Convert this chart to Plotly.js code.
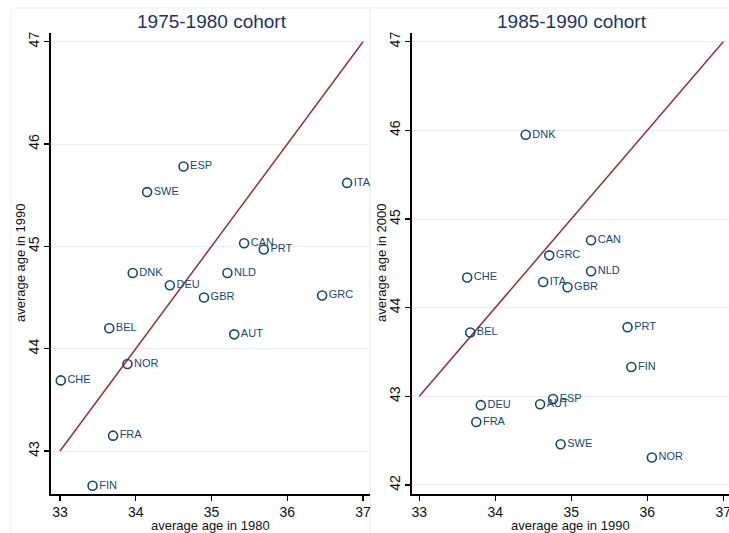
<!DOCTYPE html>
<html>
<head>
<meta charset="utf-8">
<script src="https://cdn.plot.ly/plotly-3.0.1.min.js"></script>
<style>html,body{margin:0;padding:0;background:#fff;}#chart{width:729px;height:533px;}</style>
</head>
<body>
<div id="chart"></div>
<script>
// 1975-1980 cohort
const countries1 = ["ESP","SWE","ITA","CAN","PRT","DNK","NLD","DEU","GBR","GRC","BEL","AUT","NOR","CHE","FRA","FIN"];
const age1980    = [34.63,34.15,36.79,35.43,35.69,33.96,35.21,34.45,34.90,36.46,33.65,35.30,33.89,33.01,33.70,33.43];
const age1990a   = [45.78,45.53,45.62,45.03,44.97,44.74,44.74,44.62,44.50,44.52,44.20,44.14,43.85,43.69,43.15,42.66];
// 1985-1990 cohort
const countries2 = ["DNK","CAN","GRC","NLD","CHE","ITA","GBR","BEL","PRT","FIN","ESP","AUT","DEU","FRA","SWE","NOR"];
const age1990b   = [34.40,35.26,34.71,35.26,33.63,34.63,34.95,33.67,35.74,35.79,34.76,34.59,33.81,33.75,34.86,36.06];
const age2000    = [45.95,44.76,44.59,44.41,44.34,44.29,44.23,43.72,43.78,43.33,42.97,42.91,42.90,42.71,42.46,42.31];
// 45-degree reference lines
const refX = [33, 37];
const refY = [43, 47];

const navy = "#1a476f";
const maroon = "#93303a";
const font = "Liberation Sans, Arial, sans-serif";

function pts(x, y, t, xa, ya) {
  return {
    x: x, y: y, text: t, xaxis: xa, yaxis: ya,
    type: "scatter", mode: "markers+text", textposition: "middle right",
    textfont: {family: font, size: 11, color: navy},
    marker: {symbol: "circle-open", size: 9, color: navy, line: {width: 1.6, color: navy}},
    hoverinfo: "skip", showlegend: false, cliponaxis: false
  };
}
function ref(xa, ya) {
  return {x: refX, y: refY, xaxis: xa, yaxis: ya, type: "scatter", mode: "lines",
    line: {color: maroon, width: 1.5}, hoverinfo: "skip", showlegend: false};
}

const W = 729, H = 533;
const px = v => v / W, py = v => 1 - v / H;

function xax(domain, range, title) {
  return {
    domain: domain, range: range, showgrid: false, zeroline: false,
    showline: true, linecolor: "#000", linewidth: 1.5,
    ticks: "outside", ticklen: 5, tickcolor: "#000", tickwidth: 1.2,
    ticklabeloverflow: "allow",
    tickvals: [33, 34, 35, 36, 37], tickfont: {family: font, size: 14, color: "#111"},
    title: {text: title, font: {family: font, size: 13, color: "#111"}, standoff: 1},
    fixedrange: true
  };
}
function yax(domain, range, ticks, anchor) {
  return {
    domain: domain, range: range, anchor: anchor, showgrid: true, gridcolor: "#e6eeee", gridwidth: 1,
    zeroline: false, showline: true, linecolor: "#000", linewidth: 1.5,
    ticks: "outside", ticklen: 5, tickcolor: "#000", tickwidth: 1.2, tickangle: -90,
    tickvals: ticks, tickfont: {family: font, size: 14, color: "#111"},
    fixedrange: true
  };
}

const layout = {
  width: W, height: H, margin: {l: 0, r: 0, t: 0, b: 0},
  paper_bgcolor: "#fff", plot_bgcolor: "#fff",
  font: {family: font},
  xaxis: Object.assign(xax([px(50.7), px(370)], [32.877, 37.092], "average age in 1980"), {anchor: "y"}),
  yaxis: yax([py(494), py(33)], [42.58, 47.085], [43, 44, 45, 46, 47], "x"),
  xaxis2: Object.assign(xax([px(411.7), 1], [32.9, 37.075], "average age in 1990"), {anchor: "y2"}),
  yaxis2: yax([py(494), py(33)], [41.898, 47.098], [42, 43, 44, 45, 46, 47], "x2"),
  shapes: [
    {type: "rect", xref: "paper", yref: "paper", x0: px(11), x1: px(370), y0: -0.05, y1: py(8), line: {color: "#f0f0f0", width: 1}, layer: "below"},
    {type: "rect", xref: "paper", yref: "paper", x0: px(370), x1: 1.05, y0: -0.05, y1: py(8), line: {color: "#f0f0f0", width: 1}, layer: "below"}
  ],
  annotations: [
    {text: "1975-1980 cohort", xref: "paper", yref: "paper", x: px(212), y: py(21), showarrow: false,
     xanchor: "center", yanchor: "middle", font: {family: font, size: 19, color: "#1f3461"}},
    {text: "1985-1990 cohort", xref: "paper", yref: "paper", x: px(572), y: py(21), showarrow: false,
     xanchor: "center", yanchor: "middle", font: {family: font, size: 19, color: "#1f3461"}},
    {text: "average age in 1990", xref: "paper", yref: "paper", x: px(21), y: py(263), showarrow: false,
     textangle: -90, xanchor: "center", yanchor: "middle", font: {family: font, size: 13, color: "#111"}},
    {text: "average age in 2000", xref: "paper", yref: "paper", x: px(382), y: py(263), showarrow: false,
     textangle: -90, xanchor: "center", yanchor: "middle", font: {family: font, size: 13, color: "#111"}}
  ]
};

const data = [
  ref("x", "y"), pts(age1980, age1990a, countries1, "x", "y"),
  ref("x2", "y2"), pts(age1990b, age2000, countries2, "x2", "y2")
];
Plotly.newPlot("chart", data, layout, {staticPlot: true, displayModeBar: false});
</script>
</body>
</html>
